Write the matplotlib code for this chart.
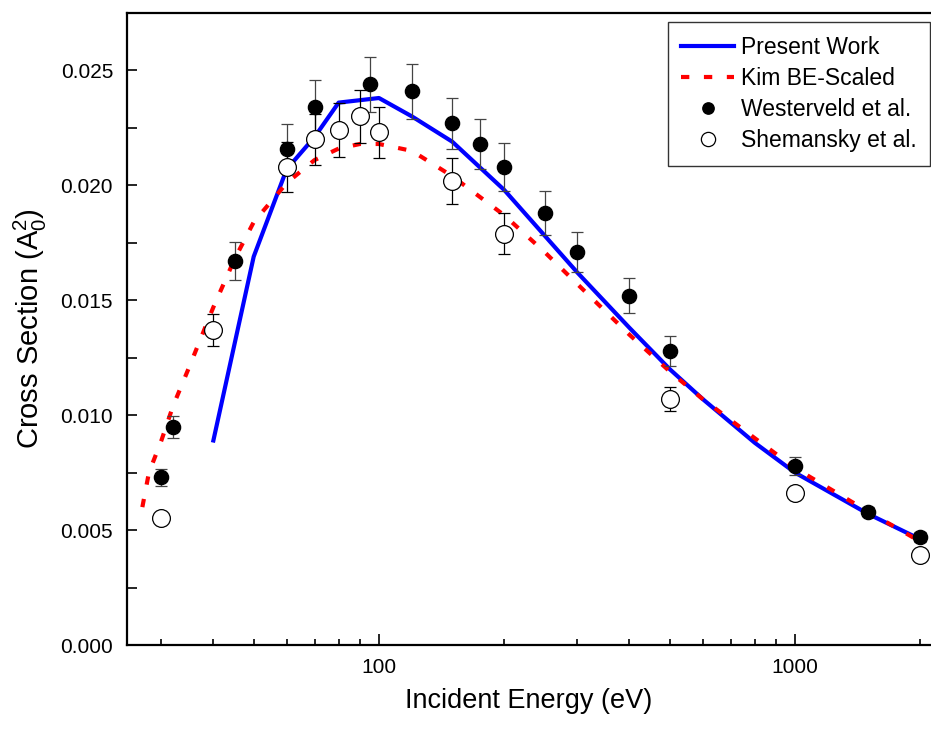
import matplotlib
matplotlib.use('Agg')
import matplotlib.pyplot as plt
from matplotlib.ticker import MultipleLocator, LogLocator, FixedLocator, NullFormatter, FuncFormatter

# Present Work (solid blue)
energy_pw = [40, 50, 60, 70, 80, 100, 120, 150, 200, 300, 400, 500, 600, 800, 1000, 1500, 2000]
cs_pw = [0.0089, 0.0169, 0.0207, 0.0221, 0.0236, 0.0238, 0.0230, 0.0219, 0.0198, 0.0162,
         0.0138, 0.0120, 0.0107, 0.0088, 0.0075, 0.0057, 0.0046]

# Kim BE-Scaled (red dotted)
energy_kim = [27, 28, 30, 32, 35, 40, 45, 50, 60, 70, 80, 90, 100, 120, 150, 200, 250,
              300, 400, 500, 600, 800, 1000, 1500, 2000]
cs_kim = [0.0060, 0.0075, 0.0089, 0.0104, 0.0121, 0.0147, 0.0168, 0.0184, 0.0201, 0.0211,
          0.0216, 0.0218, 0.0218, 0.0215, 0.0204, 0.0187, 0.0171, 0.0157, 0.0135, 0.0119,
          0.0107, 0.0090, 0.0077, 0.0058, 0.0045]

# Westerveld et al. (filled circles)
we_x = [30, 32, 45, 60, 70, 95, 120, 150, 175, 200, 250, 300, 400, 500, 1000, 1500, 2000]
we_y = [0.0073, 0.0095, 0.0167, 0.0216, 0.0234, 0.0244, 0.0241, 0.0227, 0.0218, 0.0208,
        0.0188, 0.0171, 0.0152, 0.0128, 0.0078, 0.0058, 0.0047]
we_err = [0.00036, 0.00048, 0.00083, 0.00106, 0.00117, 0.0012, 0.0012, 0.0011, 0.00107,
          0.00105, 0.00094, 0.00086, 0.00075, 0.00064, 0.0004, 0.0002, 0.0002]

# Shemansky et al. (open circles)
sh_x = [30, 40, 60, 70, 80, 90, 100, 150, 200, 500, 1000, 2000]
sh_y = [0.00552, 0.0137, 0.0208, 0.0220, 0.0224, 0.0230, 0.0223, 0.0202, 0.0179, 0.0107,
        0.0066, 0.0039]
sh_err = [0.00015, 0.0007, 0.0011, 0.0011, 0.00117, 0.00115, 0.0011, 0.001, 0.0009,
          0.00052, 0.00025, 0.0002]

plt.rcParams['font.family'] = ['Liberation Sans', 'DejaVu Sans']
plt.rcParams['mathtext.fontset'] = 'custom'
plt.rcParams['mathtext.rm'] = 'Liberation Sans'
plt.rcParams['mathtext.it'] = 'Liberation Sans:italic'

fig = plt.figure(figsize=(9.31, 7.33), dpi=100)
ax = fig.add_axes([0.1364, 0.12, 0.863, 0.8623])

ax.plot(energy_pw, cs_pw, color='#0000ff', lw=3, zorder=2, label='Present Work')
ax.plot(energy_kim, cs_kim, color='#ff0000', lw=3, dashes=(2, 3.5), zorder=3,
        label='Kim BE-Scaled')

ax.errorbar(we_x, we_y, yerr=we_err, fmt='none', ecolor='#444444', elinewidth=0.9,
            capsize=4.5, capthick=0.9, zorder=4)
ax.plot(we_x, we_y, 'o', color='black', ms=10.2, zorder=5, label='Westerveld et al.')

ax.errorbar(sh_x, sh_y, yerr=sh_err, fmt='none', ecolor='black', elinewidth=0.9,
            capsize=4.5, capthick=0.9, zorder=4)
ax.plot(sh_x, sh_y, 'o', mfc='white', mec='black', mew=0.9, ms=12.8, zorder=5,
        label='Shemansky et al.')

ax.set_xscale('log')
ax.set_xlim(24.8, 2115)
ax.set_ylim(0, 0.0275)

ax.xaxis.set_major_locator(FixedLocator([100, 1000]))
ax.xaxis.set_minor_locator(LogLocator(base=10, subs=range(2, 10), numticks=20))
ax.xaxis.set_major_formatter(FuncFormatter(lambda v, p: '%d' % v))
ax.xaxis.set_minor_formatter(NullFormatter())
ax.yaxis.set_major_locator(MultipleLocator(0.005))
ax.yaxis.set_minor_locator(MultipleLocator(0.0025))
ax.yaxis.set_major_formatter(FuncFormatter(lambda v, p: '%.3f' % v))

ax.tick_params(axis='both', which='both', direction='in', width=1.2, labelsize=15,
               top=False, right=False)
ax.tick_params(axis='x', which='major', length=8, pad=9)
ax.tick_params(axis='x', which='minor', length=4)
ax.tick_params(axis='y', which='both', length=7, pad=10)

for side in ['left', 'bottom', 'top']:
    ax.spines[side].set_linewidth(1.6)
ax.spines['right'].set_visible(False)

ax.set_xlabel('Incident Energy (eV)', fontsize=19.5, labelpad=8)
ax.set_ylabel('Cross Section (A$_0^2$)', fontsize=21, labelpad=8)

leg = ax.legend(loc='upper right', bbox_to_anchor=(1.0, 0.986), fontsize=16.5,
                frameon=True, fancybox=False, borderaxespad=0, borderpad=0.6,
                labelspacing=0.36, handlelength=2.3, handletextpad=0.3, markerscale=0.8)
leg.get_frame().set_edgecolor('black')
leg.get_frame().set_linewidth(1.0)

fig.savefig('out.png', dpi=100)
